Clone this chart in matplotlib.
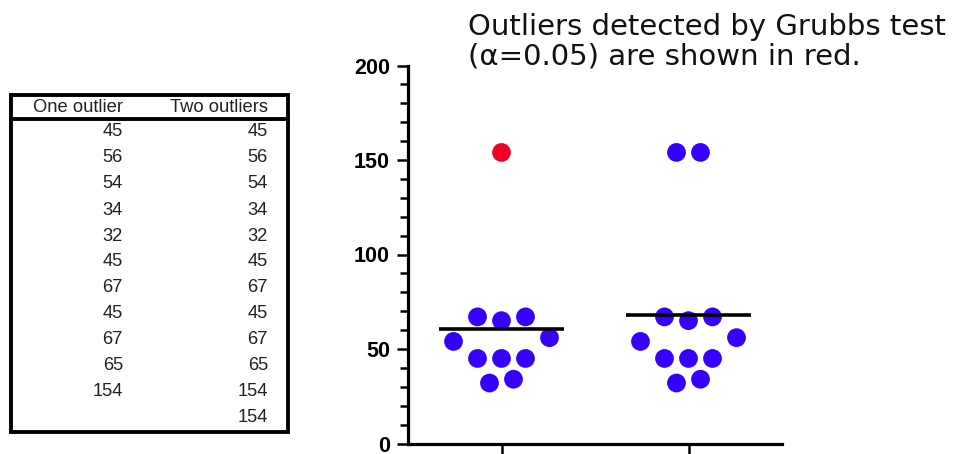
import numpy as np
import matplotlib
matplotlib.use('Agg')
import matplotlib.pyplot as plt
from matplotlib.lines import Line2D
from matplotlib.patches import Rectangle
from matplotlib.ticker import MultipleLocator

# data
groups = ['One outlier', 'Two outliers']
one_outlier = [45, 56, 54, 34, 32, 45, 67, 45, 67, 65, 154]
two_outliers = [45, 56, 54, 34, 32, 45, 67, 45, 67, 65, 154, 154]
# points flagged by Grubbs test (alpha=0.05), shown in red
flag_one = [False] * 10 + [True]
flag_two = [False] * 12

title_lines = ['Outliers detected by Grubbs test', '(\u03b1=0.05) are shown in red.']
y_ticks = [0, 50, 100, 150, 200]

W, H = 956, 454
fig = plt.figure(figsize=(W / 100, H / 100), dpi=100)


def fx(px):
    return px / W


def fy(py):
    return 1 - py / H


# ---- data table on the left ----
tbl_left, tbl_right, tbl_top, tbl_head, tbl_bottom = 11, 288, 95, 119, 432
fig.patches.append(Rectangle((fx(tbl_left), fy(tbl_bottom)),
                             fx(tbl_right) - fx(tbl_left), fy(tbl_top) - fy(tbl_bottom),
                             transform=fig.transFigure, fill=False, lw=2.8, ec='black'))
fig.lines.append(Line2D([fx(tbl_left), fx(tbl_right)], [fy(tbl_head), fy(tbl_head)],
                        transform=fig.transFigure, lw=2.8, color='black'))
col_right = [123, 268]
tfont = dict(family=['Liberation Sans', 'DejaVu Sans'], size=13.2, color='#222222')
for c, name in enumerate(groups):
    fig.text(fx(col_right[c]), fy(107), name, ha='right', va='center', **tfont)
for c, col in enumerate([one_outlier, two_outliers]):
    for r, v in enumerate(col):
        fig.text(fx(col_right[c]), fy(132 + r * 26.0), str(v), ha='right', va='center', **tfont)

# ---- title ----
fig.text(fx(468), fy(35), title_lines[0], ha='left', va='baseline',
         family='DejaVu Sans', size=21, color='#111111')
fig.text(fx(468), fy(65), title_lines[1], ha='left', va='baseline',
         family='DejaVu Sans', size=21, color='#111111')

# ---- scatter plot ----
ax_l, ax_r, ax_t, ax_b = 408, 782, 65.5, 443.5
ax = fig.add_axes([fx(ax_l), fy(ax_b), fx(ax_r) - fx(ax_l), fy(ax_t) - fy(ax_b)])
ax.set_xlim(-0.5, 1.5)
ax.set_ylim(0, 200)
px_x = (ax_r - ax_l) / 2.0
px_y = (ax_b - ax_t) / 200.0


def swarm(values, gap=5, slot=24.0, min_dist=22.0):
    values = np.asarray(values, dtype=float)
    order = np.argsort(values, kind='stable')
    rows = []
    for i in order:
        if rows and values[i] - values[rows[-1][-1]] <= gap:
            rows[-1].append(i)
        else:
            rows.append([i])
    placed = []
    offs = np.zeros(len(values))
    for row in rows:
        n = len(row)
        h0 = (n - 1) / 2
        k = 0
        while True:
            scale = 1 if n == 1 else (h0 + 0.5 * k) / h0
            base = (np.arange(n) - h0) * scale
            slots = sorted(base, key=lambda s: (abs(s), s))
            pts = [(s * slot, values[i] * px_y) for s, i in zip(slots, row)]
            ok = all(np.hypot(a - c, b - d) >= min_dist for a, b in pts for c, d in placed)
            if ok or n == 1 or k > 10:
                break
            k += 1
        for (s, i), p in zip(zip(slots, row), pts):
            offs[i] = s * slot / px_x
            placed.append(p)
    return offs


for gi, (vals, flags) in enumerate([(one_outlier, flag_one), (two_outliers, flag_two)]):
    offs = swarm(vals)
    cols = ['#f00022' if f else '#3600ff' for f in flags]
    ax.scatter(gi + offs, vals, s=13.5 ** 2, c=cols, marker='o', linewidths=0, zorder=3)
    m = np.mean(vals)
    ax.hlines(m, gi - 0.336, gi + 0.336, colors='black', lw=2.6, zorder=4)

for s in ['top', 'right']:
    ax.spines[s].set_visible(False)
for s in ['left', 'bottom']:
    ax.spines[s].set_linewidth(2.3)

ax.set_yticks(y_ticks)
ax.set_yticklabels([str(t) for t in y_ticks], fontweight='bold',
                   family=['Liberation Sans', 'DejaVu Sans'], fontsize=15.5)
ax.yaxis.set_minor_locator(MultipleLocator(10))
ax.tick_params(axis='y', which='major', length=8, width=1.8, pad=5)
ax.tick_params(axis='y', which='minor', length=5.5, width=1.8)
ax.set_xticks([0, 1])
ax.set_xticklabels(['', ''])
ax.tick_params(axis='x', length=10, width=1.8)

fig.savefig('out.png', dpi=100)
